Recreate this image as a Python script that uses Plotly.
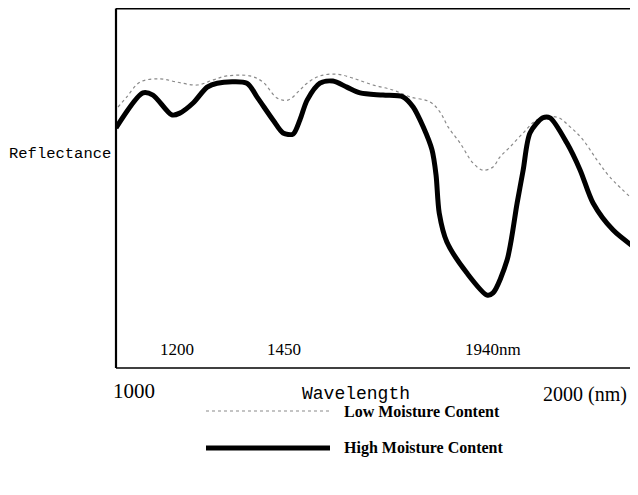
import plotly.graph_objects as go

# Wavelength (nm) and reflectance (arbitrary %)
high_wl = [1000, 1067, 1092, 1139, 1159, 1192, 1227, 1252, 1326, 1351, 1391, 1416, 1441, 1458,
           1476, 1508, 1540, 1575, 1608, 1665, 1715, 1740, 1765, 1787, 1797, 1805, 1824, 1874,
           1924, 1939, 1974, 1999, 2014, 2031, 2063, 2081, 2123, 2156, 2188, 2238, 2300]
high_refl = [66.5, 76.2, 75.6, 70.1, 70.6, 73.4, 77.8, 78.9, 78.9, 75.1, 68.7, 65.1, 64.8, 68.7,
             74.2, 78.9, 79.5, 77.8, 76.2, 75.6, 75.1, 72.3, 66.8, 60.4, 53.5, 42.9, 34.9, 26.3,
             20.2, 20.8, 29.9, 45.7, 54.8, 65.1, 69.3, 69.3, 62.3, 54.8, 45.7, 38.2, 32.7]

low_wl = [1005, 1027, 1060, 1110, 1152, 1202, 1242, 1276, 1334, 1366, 1401, 1428, 1458, 1476,
          1508, 1550, 1590, 1640, 1690, 1732, 1782, 1807, 1827, 1857, 1889, 1914, 1939, 1956,
          1981, 2014, 2048, 2098, 2131, 2163, 2198, 2230, 2297]
low_refl = [72.3, 75.1, 79.2, 80.1, 79.2, 78.4, 79.8, 80.9, 80.9, 79.2, 74.8, 74.2, 77.0, 78.9,
            80.9, 81.4, 80.3, 78.4, 77.0, 75.1, 73.7, 70.9, 66.8, 62.3, 56.8, 54.8, 55.7, 58.4,
            61.2, 65.1, 68.7, 69.5, 66.8, 63.2, 57.6, 52.9, 45.7]

band_labels = ["1200", "1450", "1940nm"]
series_names = ["Low Moisture Content", "High Moisture Content"]

OFF = 8  # page body margin
W, H = 622, 479
L, R, T = 116 - OFF, 0, 0
PH = 360
B = H - T - PH
PW = W - L - R
X_MAX = 1000 + PW * 1300 / 522


def px(x):
    return (x - OFF - L) / PW


def py(y):
    return (H - B - (y - OFF)) / PH


fig = go.Figure()
fig.add_trace(go.Scatter(x=low_wl, y=low_refl, mode="lines", name=series_names[0],
                         line=dict(color="#8a8a8a", width=1.2, dash="dot", shape="spline"),
                         showlegend=False))
fig.add_trace(go.Scatter(x=high_wl, y=high_refl, mode="lines", name=series_names[1],
                         line=dict(color="black", width=5, shape="spline", smoothing=0.8),
                         showlegend=False))

shapes = [
    dict(type="line", xref="paper", yref="paper", x0=0, x1=0, y0=0, y1=py(8.5),
         line=dict(color="black", width=2.2)),
    dict(type="line", xref="paper", yref="paper", x0=0, x1=1, y0=py(8.6), y1=py(8.6),
         line=dict(color="black", width=2)),
    dict(type="line", xref="paper", yref="paper", x0=0, x1=1, y0=0, y1=0,
         line=dict(color="black", width=1.6)),
    # legend samples
    dict(type="line", xref="paper", yref="paper", x0=px(206), x1=px(330), y0=py(411), y1=py(411),
         line=dict(color="#8a8a8a", width=1.2, dash="dot")),
    dict(type="line", xref="paper", yref="paper", x0=px(206), x1=px(330), y0=py(448), y1=py(448),
         line=dict(color="black", width=5)),
]

serif = "Liberation Serif"
mono = "Liberation Mono"


def ann(text, x, y, size, family, xanchor="center", bold=False):
    return dict(text=(f"<b>{text}</b>" if bold else text), x=px(x), y=py(y), xref="paper",
                yref="paper", showarrow=False, xanchor=xanchor, yanchor="middle",
                font=dict(size=size, family=family, color="black"))


annotations = [
    ann("Reflectance", 113, 154, 15.5, mono, xanchor="right"),
    ann(band_labels[0], 177, 349, 17, serif),
    ann(band_labels[1], 284, 349, 17, serif),
    ann(band_labels[2], 493, 349, 17, serif),
    ann("1000", 134, 391, 21, serif),
    ann("Wavelength", 356, 394, 18, mono),
    ann("2000 (nm)", 629, 394, 20, serif, xanchor="right"),
    ann(series_names[0], 342, 411, 16, serif, xanchor="left", bold=True),
    ann(series_names[1], 342, 448, 16, serif, xanchor="left", bold=True),
]

fig.update_layout(
    width=W, height=H,
    margin=dict(l=L, r=R, t=T, b=B, pad=0),
    paper_bgcolor="white", plot_bgcolor="white",
    xaxis=dict(range=[1000, X_MAX], visible=False, fixedrange=True),
    yaxis=dict(range=[0, 100 * PH / 361], visible=False, fixedrange=True),
    shapes=shapes,
    annotations=annotations,
    showlegend=False,
)

fig.write_html("out.html")
